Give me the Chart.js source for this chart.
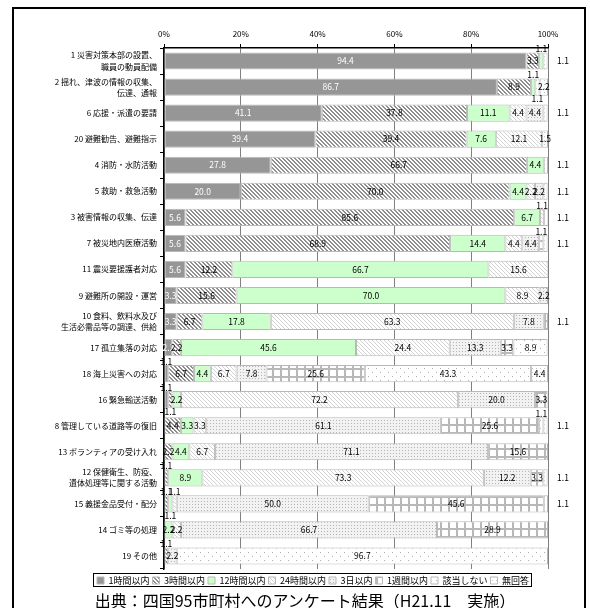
<!DOCTYPE html>
<html>
<head>
<meta charset="utf-8">
<script src="https://cdn.jsdelivr.net/npm/chart.js@4/dist/chart.umd.min.js"></script>
<style>
  html, body { margin: 0; padding: 0; background: #fff; overflow: hidden; }
  #frame { position: absolute; left: 12px; top: 7px; width: 570px; height: 620px; border: 2px solid #000; }
  #wrap { position: absolute; left: 0; top: 0; width: 590px; height: 598px; }
  #source { position: absolute; left: 0; top: 588px; width: 610px; text-align: center;
    font-family: "Noto Sans CJK JP", sans-serif; font-size: 16px; color: #000; white-space: nowrap; }
</style>
</head>
<body>
<div id="frame"></div>
<div id="wrap"><canvas id="chart" width="590" height="598"></canvas></div>
<div id="source">出典：四国95市町村へのアンケート結果（H21.11　実施）</div>
<script>
// categories, top to bottom
var categories = [
	["1 災害対策本部の設置、", "職員の動員配備"],
	["2 揺れ、津波の情報の収集、", "伝達、通報"],
	"6 応援・派遣の要請",
	"20 避難勧告、避難指示",
	"4 消防・水防活動",
	"5 救助・救急活動",
	"3 被害情報の収集、伝達",
	"7 被災地内医療活動",
	"11 震災要援護者対応",
	"9 避難所の開設・運営",
	["10 食料、飲料水及び", "生活必需品等の調達、供給"],
	"17 孤立集落の対応",
	"18 海上災害への対応",
	"16 緊急輸送活動",
	"8 管理している道路等の復旧",
	"13 ボランティアの受け入れ",
	["12 保健衛生、防疫、", "遺体処理等に関する活動"],
	"15 義援金品受付・配分",
	"14 ゴミ等の処理",
	"19 その他"
];

var seriesNames = ["1時間以内", "3時間以内", "12時間以内", "24時間以内", "3日以内", "1週間以内", "該当しない", "無回答"];

// percentages per series, same order as categories
var within1h  = [94.4, 86.7, 41.1, 39.4, 27.8, 20.0, 5.6, 5.6, 5.6, 3.3, 3.3, 2.2, 1.1, 1.1, 0, 0, 0, 0, 0, 0];
var within3h  = [3.3, 8.9, 37.8, 39.4, 66.7, 70.0, 85.6, 68.9, 12.2, 15.6, 6.7, 2.2, 6.7, 1.1, 4.4, 2.2, 1.1, 1.1, 0, 1.1];
var within12h = [1.1, 1.1, 11.1, 7.6, 4.4, 4.4, 6.7, 14.4, 66.7, 70.0, 17.8, 45.6, 4.4, 2.2, 3.3, 4.4, 8.9, 1.1, 2.2, 0];
var within24h = [0, 0, 4.4, 12.1, 0, 2.2, 1.1, 4.4, 15.6, 8.9, 63.3, 24.4, 6.7, 72.2, 3.3, 6.7, 73.3, 1.1, 2.2, 0];
var within3d  = [0, 0, 4.4, 0, 0, 2.2, 0, 4.4, 0, 2.2, 7.8, 13.3, 7.8, 20.0, 61.1, 71.1, 12.2, 50.0, 66.7, 2.2];
var within1w  = [0, 0, 0, 0, 0, 0, 0, 1.1, 0, 0, 1.1, 3.3, 25.6, 3.3, 25.6, 15.6, 3.3, 45.6, 28.9, 0];
var notApplic = [0, 1.1, 0, 0, 0, 0, 0, 0, 0, 0, 0, 8.9, 43.3, 0, 1.1, 0, 0, 1.1, 0, 96.7];
var noAnswer  = [1.1, 2.2, 1.1, 1.5, 1.1, 1.1, 1.1, 1.1, 0, 0, 0, 0, 4.4, 0, 1.1, 0, 1.1, 0, 0, 0];

var seriesValues = [within1h, within3h, within12h, within24h, within3d, within1w, notApplic, noAnswer];

var FONT = '"Noto Sans CJK JP", "Noto Sans", sans-serif';

// small tiles used as fills
function makePattern(size, bg, draw) {
	var c = document.createElement("canvas");
	c.width = size;
	c.height = size;
	var g = c.getContext("2d");
	g.fillStyle = bg;
	g.fillRect(0, 0, size, size);
	draw(g, size);
	return g.createPattern(c, "repeat");
}

function diag(color, w) {
	return function (g, s) {
		g.fillStyle = color;
		for (var i = 0; i < s; i++) {
			for (var k = 0; k < w; k++) g.fillRect((i + k) % s, i, 1, 1);
		}
	};
}

var fills = [
	"#969696",
	makePattern(4, "#ffffff", diag("#8f8f8f", 2)),
	"#ccffcc",
	makePattern(4, "#ffffff", diag("#d2d2d2", 1)),
	makePattern(3, "#f2f2f2", function (g) {
		g.fillStyle = "#b4b4b4";
		g.fillRect(0, 0, 1, 1);
	}),
	makePattern(8, "#ffffff", function (g) {
		g.fillStyle = "#b8b8b8";
		g.fillRect(0, 0, 8, 2);
		g.fillRect(0, 0, 2, 8);
	}),
	makePattern(8, "#ffffff", function (g) {
		g.fillStyle = "#b0b0b0";
		g.fillRect(0, 0, 1, 1);
		g.fillRect(4, 4, 1, 1);
	}),
	makePattern(4, "#ffffff", function (g) {
		g.fillStyle = "#c4c4c4";
		g.fillRect(0, 0, 1, 1);
	})
];

var datasets = seriesNames.map(function (name, i) {
	return {
		label: name,
		data: seriesValues[i],
		backgroundColor: fills[i],
		borderColor: "#b8b8b8",
		borderWidth: 1,
		borderSkipped: false,
		categoryPercentage: 1,
		barPercentage: 0.66
	};
});

// value labels on each segment
var segmentLabels = {
	id: "segmentLabels",
	afterDatasetsDraw: function (chart) {
		var ctx = chart.ctx;
		var area = chart.chartArea;
		ctx.save();
		ctx.font = "8.5px " + FONT;
		ctx.textAlign = "center";
		ctx.textBaseline = "middle";
		for (var r = 0; r < categories.length; r++) {
			var last = -1;
			for (var s = 0; s < seriesValues.length; s++) if (seriesValues[s][r] > 0) last = s;
			var alt = 0;
			for (var s = 0; s < seriesValues.length; s++) {
				var v = seriesValues[s][r];
				if (!v) continue;
				var el = chart.getDatasetMeta(s).data[r];
				var cx = (el.x + el.base) / 2;
				var cy = el.y;
				if (v < 1.5) {
					if (s === last) {
						cx = area.right + 15;
					} else {
						cy = el.y + (alt % 2 === 0 ? -12 : 12);
						alt++;
					}
				}
				ctx.fillStyle = s === 0 && v >= 1.5 ? "#ffffff" : "#000000";
				ctx.fillText(v.toFixed(1), cx, cy);
			}
		}
		ctx.restore();
	}
};

// move the legend under the plot centre and frame it
var legendFrame = {
	id: "legendFrame",
	afterLayout: function (chart) {
		var lg = chart.legend;
		lg.left += 39;
		lg.right += 39;
		lg.top += 4;
		lg.bottom += 4;
	},
	afterDraw: function (chart) {
		var boxes = chart.legend.legendHitBoxes;
		if (!boxes || !boxes.length) return;
		var l = Infinity, r = -Infinity, t = Infinity, b = -Infinity;
		boxes.forEach(function (h) {
			l = Math.min(l, h.left);
			r = Math.max(r, h.left + h.width);
			t = Math.min(t, h.top);
			b = Math.max(b, h.top + h.height);
		});
		var ctx = chart.ctx;
		ctx.save();
		ctx.strokeStyle = "#000";
		ctx.lineWidth = 1;
		ctx.strokeRect(Math.round(l) - 3.5, Math.round(t) - 2.5, Math.round(r - l) + 6, Math.round(b - t) + 4);
		ctx.restore();
	}
};

new Chart(document.getElementById("chart"), {
	type: "bar",
	data: { labels: categories, datasets: datasets },
	plugins: [segmentLabels, legendFrame],
	options: {
		indexAxis: "y",
		responsive: false,
		animation: false,
		devicePixelRatio: 1,
		layout: { padding: { left: 0, right: 42, top: 0, bottom: 7 } },
		scales: {
			x: {
				position: "top",
				stacked: true,
				min: 0,
				max: 100,
				ticks: {
					stepSize: 20,
					color: "#000",
					padding: 5,
					font: { family: FONT, size: 8 },
					callback: function (v) { return v + "%"; }
				},
				grid: { color: "#808080", lineWidth: 1, tickLength: 4, tickColor: "#000" },
				border: { color: "#000", width: 1.5 },
				afterFit: function (s) { s.height = 48; }
			},
			y: {
				stacked: true,
				ticks: {
					color: "#000",
					padding: 3,
					autoSkip: false,
					font: { family: FONT, size: 8, lineHeight: 1.4 }
				},
				grid: { drawOnChartArea: false, tickLength: 4, color: "#000", offset: true },
				border: { color: "#000", width: 1.5 },
				afterFit: function (s) { s.width = 164; }
			}
		},
		plugins: {
			legend: {
				position: "bottom",
				labels: {
					color: "#000",
					boxWidth: 7,
					boxHeight: 7,
					padding: 3,
					font: { family: FONT, size: 9 }
				}
			},
			tooltip: { enabled: false }
		}
	}
});
</script>
</body>
</html>
